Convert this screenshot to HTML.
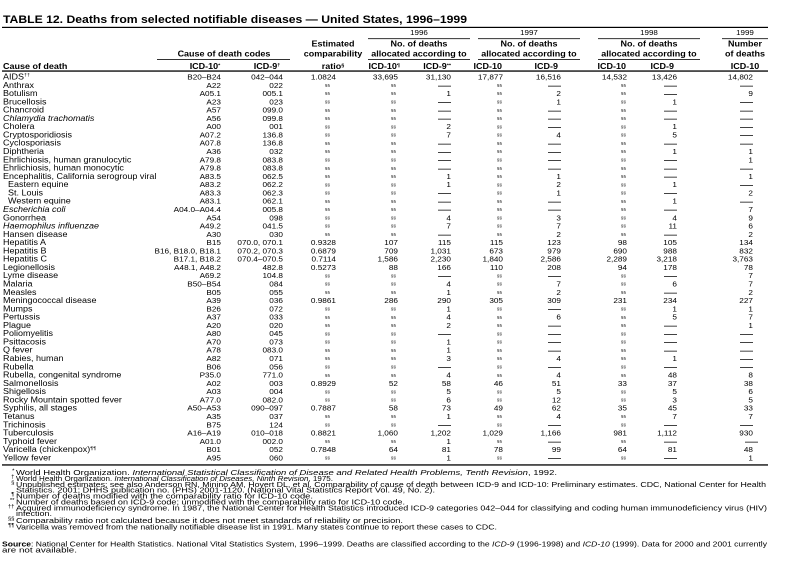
<!DOCTYPE html>
<html><head><meta charset="utf-8">
<style>
html,body{margin:0;padding:0;background:#fff;}
svg{display:block;}
text{font-family:"Liberation Sans",Arial,sans-serif;fill:#000;}
.n{font-size:9px;}
.i{font-style:italic;}
.c{font-size:8.2px;text-anchor:end;}
.m{font-size:4.6px;text-anchor:end;}
.d{font-size:13px;}
.h{font-size:9px;font-weight:bold;}
.hc{font-size:9px;font-weight:bold;text-anchor:middle;}
.he{font-size:9px;font-weight:bold;text-anchor:end;}
.y{font-size:8px;text-anchor:middle;}
.f{font-size:8.8px;}
.fm{font-size:6px;text-anchor:end;}
</style></head><body>
<svg width="787" height="575" viewBox="0 0 787 575" xmlns="http://www.w3.org/2000/svg">
<rect width="787" height="575" fill="#fff"/>
<text x="3" y="23" font-size="10.6" font-weight="bold" textLength="464" lengthAdjust="spacingAndGlyphs">TABLE 12. Deaths from selected notifiable diseases — United States, 1996–1999</text>
<rect x="2" y="26.8" width="766" height="1.2"/>

<!-- header -->
<g transform="translate(0,35) scale(1,.9)">
<text x="419" class="y">1996</text><text x="529" class="y">1997</text><text x="649" class="y">1998</text><text x="745" class="y">1999</text>
</g>
<rect x="368" y="38.3" width="102" height="0.8"/>
<rect x="478" y="38.3" width="102" height="0.8"/>
<rect x="598" y="38.3" width="102" height="0.8"/>
<rect x="722" y="38.3" width="46" height="0.8"/>
<g transform="translate(0,46.5) scale(1,.9)">
<text x="333" class="hc">Estimated</text>
<text x="419" class="hc">No. of deaths</text><text x="529" class="hc">No. of deaths</text><text x="649" class="hc">No. of deaths</text>
<text x="745" class="hc">Number</text>
</g>
<g transform="translate(0,56.5) scale(1,.9)">
<text x="224" class="hc">Cause of death codes</text>
<text x="333" class="hc">comparability</text>
<text x="419" class="hc">allocated according to</text><text x="529" class="hc">allocated according to</text><text x="649" class="hc">allocated according to</text>
<text x="745" class="hc">of deaths</text>
</g>
<rect x="157" y="59.2" width="133" height="0.8"/>
<rect x="368" y="59.2" width="102" height="0.8"/>
<rect x="478" y="59.2" width="102" height="0.8"/>
<rect x="598" y="59.2" width="102" height="0.8"/>
<g transform="translate(0,69) scale(1,.9)">
<text x="3" class="h">Cause of death</text>
<text x="205" class="hc">ICD-10<tspan font-size="5.5" dy="-3">*</tspan></text>
<text x="267" class="hc">ICD-9<tspan font-size="5.5" dy="-3">†</tspan></text>
<text x="333" class="hc">ratio<tspan font-size="5.5" dy="-3">§</tspan></text>
<text x="400" class="he">ICD-10<tspan font-size="5.5" dy="-3">¶</tspan></text>
<text x="451" class="he">ICD-9<tspan font-size="5.5" dy="-3">**</tspan></text>
<text x="502" class="he">ICD-10</text>
<text x="558" class="he">ICD-9</text>
<text x="626" class="he">ICD-10</text>
<text x="674" class="he">ICD-9</text>
<text x="745" class="hc">ICD-10</text>
</g>
<rect x="2" y="70.4" width="766" height="1.3"/>

<!-- rows -->
<g transform="translate(0,79.5) scale(1,.88)"><text x="3" class="n">AIDS<tspan font-size="5.5" dy="-3.2">††</tspan></text><text x="221" class="c">B20–B24</text><text x="283" class="c">042–044</text><text x="336" class="c">1.0824</text><text x="398" class="c">33,695</text><text x="451" class="c">31,130</text><text x="503" class="c">17,877</text><text x="561" class="c">16,516</text><text x="627" class="c">14,532</text><text x="677" class="c">13,426</text><text x="753" class="c">14,802</text></g>
<g transform="translate(0,87.78) scale(1,.88)"><text x="3" class="n">Anthrax</text><text x="221" class="c">A22</text><text x="283" class="c">022</text><text x="330" y="-1.5" class="m">§§</text><text x="396" y="-1.5" class="m">§§</text><text x="438" y="1.4" class="d">—</text><text x="502" y="-1.5" class="m">§§</text><text x="548" y="1.4" class="d">—</text><text x="626" y="-1.5" class="m">§§</text><text x="664" y="1.4" class="d">—</text><text x="740" y="1.4" class="d">—</text></g>
<g transform="translate(0,96.06) scale(1,.88)"><text x="3" class="n">Botulism</text><text x="221" class="c">A05.1</text><text x="283" class="c">005.1</text><text x="330" y="-1.5" class="m">§§</text><text x="396" y="-1.5" class="m">§§</text><text x="451" class="c">1</text><text x="502" y="-1.5" class="m">§§</text><text x="561" class="c">2</text><text x="626" y="-1.5" class="m">§§</text><text x="664" y="1.4" class="d">—</text><text x="753" class="c">9</text></g>
<g transform="translate(0,104.34) scale(1,.88)"><text x="3" class="n">Brucellosis</text><text x="221" class="c">A23</text><text x="283" class="c">023</text><text x="330" y="-1.5" class="m">§§</text><text x="396" y="-1.5" class="m">§§</text><text x="438" y="1.4" class="d">—</text><text x="502" y="-1.5" class="m">§§</text><text x="561" class="c">1</text><text x="626" y="-1.5" class="m">§§</text><text x="677" class="c">1</text><text x="740" y="1.4" class="d">—</text></g>
<g transform="translate(0,112.62) scale(1,.88)"><text x="3" class="n">Chancroid</text><text x="221" class="c">A57</text><text x="283" class="c">099.0</text><text x="330" y="-1.5" class="m">§§</text><text x="396" y="-1.5" class="m">§§</text><text x="438" y="1.4" class="d">—</text><text x="502" y="-1.5" class="m">§§</text><text x="548" y="1.4" class="d">—</text><text x="626" y="-1.5" class="m">§§</text><text x="664" y="1.4" class="d">—</text><text x="740" y="1.4" class="d">—</text></g>
<g transform="translate(0,120.9) scale(1,.88)"><text x="3" class="n i">Chlamydia trachomatis</text><text x="221" class="c">A56</text><text x="283" class="c">099.8</text><text x="330" y="-1.5" class="m">§§</text><text x="396" y="-1.5" class="m">§§</text><text x="438" y="1.4" class="d">—</text><text x="502" y="-1.5" class="m">§§</text><text x="548" y="1.4" class="d">—</text><text x="626" y="-1.5" class="m">§§</text><text x="664" y="1.4" class="d">—</text><text x="740" y="1.4" class="d">—</text></g>
<g transform="translate(0,129.18) scale(1,.88)"><text x="3" class="n">Cholera</text><text x="221" class="c">A00</text><text x="283" class="c">001</text><text x="330" y="-1.5" class="m">§§</text><text x="396" y="-1.5" class="m">§§</text><text x="451" class="c">2</text><text x="502" y="-1.5" class="m">§§</text><text x="548" y="1.4" class="d">—</text><text x="626" y="-1.5" class="m">§§</text><text x="677" class="c">1</text><text x="740" y="1.4" class="d">—</text></g>
<g transform="translate(0,137.46) scale(1,.88)"><text x="3" class="n">Cryptosporidiosis</text><text x="221" class="c">A07.2</text><text x="283" class="c">136.8</text><text x="330" y="-1.5" class="m">§§</text><text x="396" y="-1.5" class="m">§§</text><text x="451" class="c">7</text><text x="502" y="-1.5" class="m">§§</text><text x="561" class="c">4</text><text x="626" y="-1.5" class="m">§§</text><text x="677" class="c">5</text><text x="740" y="1.4" class="d">—</text></g>
<g transform="translate(0,145.74) scale(1,.88)"><text x="3" class="n">Cyclosporiasis</text><text x="221" class="c">A07.8</text><text x="283" class="c">136.8</text><text x="330" y="-1.5" class="m">§§</text><text x="396" y="-1.5" class="m">§§</text><text x="438" y="1.4" class="d">—</text><text x="502" y="-1.5" class="m">§§</text><text x="548" y="1.4" class="d">—</text><text x="626" y="-1.5" class="m">§§</text><text x="664" y="1.4" class="d">—</text><text x="740" y="1.4" class="d">—</text></g>
<g transform="translate(0,154.02) scale(1,.88)"><text x="3" class="n">Diphtheria</text><text x="221" class="c">A36</text><text x="283" class="c">032</text><text x="330" y="-1.5" class="m">§§</text><text x="396" y="-1.5" class="m">§§</text><text x="438" y="1.4" class="d">—</text><text x="502" y="-1.5" class="m">§§</text><text x="548" y="1.4" class="d">—</text><text x="626" y="-1.5" class="m">§§</text><text x="677" class="c">1</text><text x="753" class="c">1</text></g>
<g transform="translate(0,162.3) scale(1,.88)"><text x="3" class="n">Ehrlichiosis, human granulocytic</text><text x="221" class="c">A79.8</text><text x="283" class="c">083.8</text><text x="330" y="-1.5" class="m">§§</text><text x="396" y="-1.5" class="m">§§</text><text x="438" y="1.4" class="d">—</text><text x="502" y="-1.5" class="m">§§</text><text x="548" y="1.4" class="d">—</text><text x="626" y="-1.5" class="m">§§</text><text x="664" y="1.4" class="d">—</text><text x="753" class="c">1</text></g>
<g transform="translate(0,170.58) scale(1,.88)"><text x="3" class="n">Ehrlichiosis, human monocytic</text><text x="221" class="c">A79.8</text><text x="283" class="c">083.8</text><text x="330" y="-1.5" class="m">§§</text><text x="396" y="-1.5" class="m">§§</text><text x="438" y="1.4" class="d">—</text><text x="502" y="-1.5" class="m">§§</text><text x="548" y="1.4" class="d">—</text><text x="626" y="-1.5" class="m">§§</text><text x="664" y="1.4" class="d">—</text><text x="740" y="1.4" class="d">—</text></g>
<g transform="translate(0,178.86) scale(1,.88)"><text x="3" class="n">Encephalitis, California serogroup viral</text><text x="221" class="c">A83.5</text><text x="283" class="c">062.5</text><text x="330" y="-1.5" class="m">§§</text><text x="396" y="-1.5" class="m">§§</text><text x="451" class="c">1</text><text x="502" y="-1.5" class="m">§§</text><text x="561" class="c">1</text><text x="626" y="-1.5" class="m">§§</text><text x="664" y="1.4" class="d">—</text><text x="753" class="c">1</text></g>
<g transform="translate(0,187.14) scale(1,.88)"><text x="8" class="n">Eastern equine</text><text x="221" class="c">A83.2</text><text x="283" class="c">062.2</text><text x="330" y="-1.5" class="m">§§</text><text x="396" y="-1.5" class="m">§§</text><text x="451" class="c">1</text><text x="502" y="-1.5" class="m">§§</text><text x="561" class="c">2</text><text x="626" y="-1.5" class="m">§§</text><text x="677" class="c">1</text><text x="740" y="1.4" class="d">—</text></g>
<g transform="translate(0,195.42) scale(1,.88)"><text x="8" class="n">St. Louis</text><text x="221" class="c">A83.3</text><text x="283" class="c">062.3</text><text x="330" y="-1.5" class="m">§§</text><text x="396" y="-1.5" class="m">§§</text><text x="438" y="1.4" class="d">—</text><text x="502" y="-1.5" class="m">§§</text><text x="561" class="c">1</text><text x="626" y="-1.5" class="m">§§</text><text x="664" y="1.4" class="d">—</text><text x="753" class="c">2</text></g>
<g transform="translate(0,203.7) scale(1,.88)"><text x="8" class="n">Western equine</text><text x="221" class="c">A83.1</text><text x="283" class="c">062.1</text><text x="330" y="-1.5" class="m">§§</text><text x="396" y="-1.5" class="m">§§</text><text x="438" y="1.4" class="d">—</text><text x="502" y="-1.5" class="m">§§</text><text x="548" y="1.4" class="d">—</text><text x="626" y="-1.5" class="m">§§</text><text x="677" class="c">1</text><text x="740" y="1.4" class="d">—</text></g>
<g transform="translate(0,211.98) scale(1,.88)"><text x="3" class="n i">Escherichia coli</text><text x="221" class="c">A04.0–A04.4</text><text x="283" class="c">005.8</text><text x="330" y="-1.5" class="m">§§</text><text x="396" y="-1.5" class="m">§§</text><text x="438" y="1.4" class="d">—</text><text x="502" y="-1.5" class="m">§§</text><text x="548" y="1.4" class="d">—</text><text x="626" y="-1.5" class="m">§§</text><text x="664" y="1.4" class="d">—</text><text x="753" class="c">7</text></g>
<g transform="translate(0,220.26) scale(1,.88)"><text x="3" class="n">Gonorrhea</text><text x="221" class="c">A54</text><text x="283" class="c">098</text><text x="330" y="-1.5" class="m">§§</text><text x="396" y="-1.5" class="m">§§</text><text x="451" class="c">4</text><text x="502" y="-1.5" class="m">§§</text><text x="561" class="c">3</text><text x="626" y="-1.5" class="m">§§</text><text x="677" class="c">4</text><text x="753" class="c">9</text></g>
<g transform="translate(0,228.54) scale(1,.88)"><text x="3" class="n i">Haemophilus influenzae</text><text x="221" class="c">A49.2</text><text x="283" class="c">041.5</text><text x="330" y="-1.5" class="m">§§</text><text x="396" y="-1.5" class="m">§§</text><text x="451" class="c">7</text><text x="502" y="-1.5" class="m">§§</text><text x="561" class="c">7</text><text x="626" y="-1.5" class="m">§§</text><text x="677" class="c">11</text><text x="753" class="c">6</text></g>
<g transform="translate(0,236.82) scale(1,.88)"><text x="3" class="n">Hansen disease</text><text x="221" class="c">A30</text><text x="283" class="c">030</text><text x="330" y="-1.5" class="m">§§</text><text x="396" y="-1.5" class="m">§§</text><text x="438" y="1.4" class="d">—</text><text x="502" y="-1.5" class="m">§§</text><text x="561" class="c">2</text><text x="626" y="-1.5" class="m">§§</text><text x="664" y="1.4" class="d">—</text><text x="753" class="c">2</text></g>
<g transform="translate(0,245.1) scale(1,.88)"><text x="3" class="n">Hepatitis A</text><text x="221" class="c">B15</text><text x="283" class="c">070.0, 070.1</text><text x="336" class="c">0.9328</text><text x="398" class="c">107</text><text x="451" class="c">115</text><text x="503" class="c">115</text><text x="561" class="c">123</text><text x="627" class="c">98</text><text x="677" class="c">105</text><text x="753" class="c">134</text></g>
<g transform="translate(0,253.38) scale(1,.88)"><text x="3" class="n">Hepatitis B</text><text x="221" class="c">B16, B18.0, B18.1</text><text x="283" class="c">070.2, 070.3</text><text x="336" class="c">0.6879</text><text x="398" class="c">709</text><text x="451" class="c">1,031</text><text x="503" class="c">673</text><text x="561" class="c">979</text><text x="627" class="c">690</text><text x="677" class="c">988</text><text x="753" class="c">832</text></g>
<g transform="translate(0,261.66) scale(1,.88)"><text x="3" class="n">Hepatitis C</text><text x="221" class="c">B17.1, B18.2</text><text x="283" class="c">070.4–070.5</text><text x="336" class="c">0.7114</text><text x="398" class="c">1,586</text><text x="451" class="c">2,230</text><text x="503" class="c">1,840</text><text x="561" class="c">2,586</text><text x="627" class="c">2,289</text><text x="677" class="c">3,218</text><text x="753" class="c">3,763</text></g>
<g transform="translate(0,269.94) scale(1,.88)"><text x="3" class="n">Legionellosis</text><text x="221" class="c">A48.1, A48.2</text><text x="283" class="c">482.8</text><text x="336" class="c">0.5273</text><text x="398" class="c">88</text><text x="451" class="c">166</text><text x="503" class="c">110</text><text x="561" class="c">208</text><text x="627" class="c">94</text><text x="677" class="c">178</text><text x="753" class="c">78</text></g>
<g transform="translate(0,278.22) scale(1,.88)"><text x="3" class="n">Lyme disease</text><text x="221" class="c">A69.2</text><text x="283" class="c">104.8</text><text x="330" y="-1.5" class="m">§§</text><text x="396" y="-1.5" class="m">§§</text><text x="438" y="1.4" class="d">—</text><text x="502" y="-1.5" class="m">§§</text><text x="548" y="1.4" class="d">—</text><text x="626" y="-1.5" class="m">§§</text><text x="664" y="1.4" class="d">—</text><text x="753" class="c">7</text></g>
<g transform="translate(0,286.5) scale(1,.88)"><text x="3" class="n">Malaria</text><text x="221" class="c">B50–B54</text><text x="283" class="c">084</text><text x="330" y="-1.5" class="m">§§</text><text x="396" y="-1.5" class="m">§§</text><text x="451" class="c">4</text><text x="502" y="-1.5" class="m">§§</text><text x="561" class="c">7</text><text x="626" y="-1.5" class="m">§§</text><text x="677" class="c">6</text><text x="753" class="c">7</text></g>
<g transform="translate(0,294.78) scale(1,.88)"><text x="3" class="n">Measles</text><text x="221" class="c">B05</text><text x="283" class="c">055</text><text x="330" y="-1.5" class="m">§§</text><text x="396" y="-1.5" class="m">§§</text><text x="451" class="c">1</text><text x="502" y="-1.5" class="m">§§</text><text x="561" class="c">2</text><text x="626" y="-1.5" class="m">§§</text><text x="664" y="1.4" class="d">—</text><text x="753" class="c">2</text></g>
<g transform="translate(0,303.06) scale(1,.88)"><text x="3" class="n">Meningococcal disease</text><text x="221" class="c">A39</text><text x="283" class="c">036</text><text x="336" class="c">0.9861</text><text x="398" class="c">286</text><text x="451" class="c">290</text><text x="503" class="c">305</text><text x="561" class="c">309</text><text x="627" class="c">231</text><text x="677" class="c">234</text><text x="753" class="c">227</text></g>
<g transform="translate(0,311.34) scale(1,.88)"><text x="3" class="n">Mumps</text><text x="221" class="c">B26</text><text x="283" class="c">072</text><text x="330" y="-1.5" class="m">§§</text><text x="396" y="-1.5" class="m">§§</text><text x="451" class="c">1</text><text x="502" y="-1.5" class="m">§§</text><text x="548" y="1.4" class="d">—</text><text x="626" y="-1.5" class="m">§§</text><text x="677" class="c">1</text><text x="753" class="c">1</text></g>
<g transform="translate(0,319.62) scale(1,.88)"><text x="3" class="n">Pertussis</text><text x="221" class="c">A37</text><text x="283" class="c">033</text><text x="330" y="-1.5" class="m">§§</text><text x="396" y="-1.5" class="m">§§</text><text x="451" class="c">4</text><text x="502" y="-1.5" class="m">§§</text><text x="561" class="c">6</text><text x="626" y="-1.5" class="m">§§</text><text x="677" class="c">5</text><text x="753" class="c">7</text></g>
<g transform="translate(0,327.9) scale(1,.88)"><text x="3" class="n">Plague</text><text x="221" class="c">A20</text><text x="283" class="c">020</text><text x="330" y="-1.5" class="m">§§</text><text x="396" y="-1.5" class="m">§§</text><text x="451" class="c">2</text><text x="502" y="-1.5" class="m">§§</text><text x="548" y="1.4" class="d">—</text><text x="626" y="-1.5" class="m">§§</text><text x="664" y="1.4" class="d">—</text><text x="753" class="c">1</text></g>
<g transform="translate(0,336.18) scale(1,.88)"><text x="3" class="n">Poliomyelitis</text><text x="221" class="c">A80</text><text x="283" class="c">045</text><text x="330" y="-1.5" class="m">§§</text><text x="396" y="-1.5" class="m">§§</text><text x="438" y="1.4" class="d">—</text><text x="502" y="-1.5" class="m">§§</text><text x="548" y="1.4" class="d">—</text><text x="626" y="-1.5" class="m">§§</text><text x="664" y="1.4" class="d">—</text><text x="740" y="1.4" class="d">—</text></g>
<g transform="translate(0,344.46) scale(1,.88)"><text x="3" class="n">Psittacosis</text><text x="221" class="c">A70</text><text x="283" class="c">073</text><text x="330" y="-1.5" class="m">§§</text><text x="396" y="-1.5" class="m">§§</text><text x="451" class="c">1</text><text x="502" y="-1.5" class="m">§§</text><text x="548" y="1.4" class="d">—</text><text x="626" y="-1.5" class="m">§§</text><text x="664" y="1.4" class="d">—</text><text x="740" y="1.4" class="d">—</text></g>
<g transform="translate(0,352.74) scale(1,.88)"><text x="3" class="n">Q fever</text><text x="221" class="c">A78</text><text x="283" class="c">083.0</text><text x="330" y="-1.5" class="m">§§</text><text x="396" y="-1.5" class="m">§§</text><text x="451" class="c">1</text><text x="502" y="-1.5" class="m">§§</text><text x="548" y="1.4" class="d">—</text><text x="626" y="-1.5" class="m">§§</text><text x="664" y="1.4" class="d">—</text><text x="740" y="1.4" class="d">—</text></g>
<g transform="translate(0,361.02) scale(1,.88)"><text x="3" class="n">Rabies, human</text><text x="221" class="c">A82</text><text x="283" class="c">071</text><text x="330" y="-1.5" class="m">§§</text><text x="396" y="-1.5" class="m">§§</text><text x="451" class="c">3</text><text x="502" y="-1.5" class="m">§§</text><text x="561" class="c">4</text><text x="626" y="-1.5" class="m">§§</text><text x="677" class="c">1</text><text x="740" y="1.4" class="d">—</text></g>
<g transform="translate(0,369.3) scale(1,.88)"><text x="3" class="n">Rubella</text><text x="221" class="c">B06</text><text x="283" class="c">056</text><text x="330" y="-1.5" class="m">§§</text><text x="396" y="-1.5" class="m">§§</text><text x="438" y="1.4" class="d">—</text><text x="502" y="-1.5" class="m">§§</text><text x="548" y="1.4" class="d">—</text><text x="626" y="-1.5" class="m">§§</text><text x="664" y="1.4" class="d">—</text><text x="740" y="1.4" class="d">—</text></g>
<g transform="translate(0,377.58) scale(1,.88)"><text x="3" class="n">Rubella, congenital syndrome</text><text x="221" class="c">P35.0</text><text x="283" class="c">771.0</text><text x="330" y="-1.5" class="m">§§</text><text x="396" y="-1.5" class="m">§§</text><text x="451" class="c">4</text><text x="502" y="-1.5" class="m">§§</text><text x="561" class="c">4</text><text x="626" y="-1.5" class="m">§§</text><text x="677" class="c">48</text><text x="753" class="c">8</text></g>
<g transform="translate(0,385.86) scale(1,.88)"><text x="3" class="n">Salmonellosis</text><text x="221" class="c">A02</text><text x="283" class="c">003</text><text x="336" class="c">0.8929</text><text x="398" class="c">52</text><text x="451" class="c">58</text><text x="503" class="c">46</text><text x="561" class="c">51</text><text x="627" class="c">33</text><text x="677" class="c">37</text><text x="753" class="c">38</text></g>
<g transform="translate(0,394.14) scale(1,.88)"><text x="3" class="n">Shigellosis</text><text x="221" class="c">A03</text><text x="283" class="c">004</text><text x="330" y="-1.5" class="m">§§</text><text x="396" y="-1.5" class="m">§§</text><text x="451" class="c">5</text><text x="502" y="-1.5" class="m">§§</text><text x="561" class="c">5</text><text x="626" y="-1.5" class="m">§§</text><text x="677" class="c">5</text><text x="753" class="c">6</text></g>
<g transform="translate(0,402.42) scale(1,.88)"><text x="3" class="n">Rocky Mountain spotted fever</text><text x="221" class="c">A77.0</text><text x="283" class="c">082.0</text><text x="330" y="-1.5" class="m">§§</text><text x="396" y="-1.5" class="m">§§</text><text x="451" class="c">6</text><text x="502" y="-1.5" class="m">§§</text><text x="561" class="c">12</text><text x="626" y="-1.5" class="m">§§</text><text x="677" class="c">3</text><text x="753" class="c">5</text></g>
<g transform="translate(0,410.7) scale(1,.88)"><text x="3" class="n">Syphilis, all stages</text><text x="221" class="c">A50–A53</text><text x="283" class="c">090–097</text><text x="336" class="c">0.7887</text><text x="398" class="c">58</text><text x="451" class="c">73</text><text x="503" class="c">49</text><text x="561" class="c">62</text><text x="627" class="c">35</text><text x="677" class="c">45</text><text x="753" class="c">33</text></g>
<g transform="translate(0,418.98) scale(1,.88)"><text x="3" class="n">Tetanus</text><text x="221" class="c">A35</text><text x="283" class="c">037</text><text x="330" y="-1.5" class="m">§§</text><text x="396" y="-1.5" class="m">§§</text><text x="451" class="c">1</text><text x="502" y="-1.5" class="m">§§</text><text x="561" class="c">4</text><text x="626" y="-1.5" class="m">§§</text><text x="677" class="c">7</text><text x="753" class="c">7</text></g>
<g transform="translate(0,427.26) scale(1,.88)"><text x="3" class="n">Trichinosis</text><text x="221" class="c">B75</text><text x="283" class="c">124</text><text x="330" y="-1.5" class="m">§§</text><text x="396" y="-1.5" class="m">§§</text><text x="438" y="1.4" class="d">—</text><text x="502" y="-1.5" class="m">§§</text><text x="548" y="1.4" class="d">—</text><text x="626" y="-1.5" class="m">§§</text><text x="664" y="1.4" class="d">—</text><text x="740" y="1.4" class="d">—</text></g>
<g transform="translate(0,435.54) scale(1,.88)"><text x="3" class="n">Tuberculosis</text><text x="221" class="c">A16–A19</text><text x="283" class="c">010–018</text><text x="336" class="c">0.8821</text><text x="398" class="c">1,060</text><text x="451" class="c">1,202</text><text x="503" class="c">1,029</text><text x="561" class="c">1,166</text><text x="627" class="c">981</text><text x="677" class="c">1,112</text><text x="753" class="c">930</text></g>
<g transform="translate(0,443.82) scale(1,.88)"><text x="3" class="n">Typhoid fever</text><text x="221" class="c">A01.0</text><text x="283" class="c">002.0</text><text x="330" y="-1.5" class="m">§§</text><text x="396" y="-1.5" class="m">§§</text><text x="451" class="c">1</text><text x="502" y="-1.5" class="m">§§</text><text x="548" y="1.4" class="d">—</text><text x="626" y="-1.5" class="m">§§</text><text x="664" y="1.4" class="d">—</text><text x="745" y="1.4" class="d" font-size="8">—</text></g>
<g transform="translate(0,452.1) scale(1,.88)"><text x="3" class="n">Varicella (chickenpox)<tspan font-size="5.5" dy="-3.2">¶¶</tspan></text><text x="221" class="c">B01</text><text x="283" class="c">052</text><text x="336" class="c">0.7848</text><text x="398" class="c">64</text><text x="451" class="c">81</text><text x="503" class="c">78</text><text x="561" class="c">99</text><text x="627" class="c">64</text><text x="677" class="c">81</text><text x="753" class="c">48</text></g>
<g transform="translate(0,460.38) scale(1,.88)"><text x="3" class="n">Yellow fever</text><text x="221" class="c">A95</text><text x="283" class="c">060</text><text x="330" y="-1.5" class="m">§§</text><text x="396" y="-1.5" class="m">§§</text><text x="451" class="c">1</text><text x="502" y="-1.5" class="m">§§</text><text x="548" y="1.4" class="d">—</text><text x="626" y="-1.5" class="m">§§</text><text x="664" y="1.4" class="d">—</text><text x="753" class="c">1</text></g>
<rect x="2" y="464.3" width="766" height="1.3"/>

<!-- footnotes -->
<g transform="translate(0,475) scale(1,.85)"><text x="14.5" y="-3" class="fm">*</text><text x="16" class="f" textLength="541" lengthAdjust="spacingAndGlyphs">World Health Organization. <tspan class="i">International Statistical Classification of Disease and Related Health Problems, Tenth Revision</tspan>, 1992.</text></g>
<g transform="translate(0,481) scale(1,.85)"><text x="14.5" y="-3" class="fm">†</text><text x="16" class="f" textLength="317" lengthAdjust="spacingAndGlyphs">World Health Organization. <tspan class="i">International Classification of Diseases, Ninth Revision</tspan>, 1975.</text></g>
<g transform="translate(0,487) scale(1,.85)"><text x="14.5" y="-3" class="fm">§</text><text x="16" class="f" textLength="750" lengthAdjust="spacingAndGlyphs">Unpublished estimates; see also Anderson RN, Minino AM, Hoyert DL, et al. Comparability of cause of death between ICD-9 and ICD-10: Preliminary estimates. CDC, National Center for Health</text></g>
<g transform="translate(0,492.5) scale(1,.85)"><text x="16" class="f" textLength="419" lengthAdjust="spacingAndGlyphs">Statistics. 2001; DHHS publication no. (PHS) 2001-1120. (National Vital Statistics Report Vol. 49, No. 2).</text></g>
<g transform="translate(0,498.5) scale(1,.85)"><text x="14.5" y="-3" class="fm">¶</text><text x="16" class="f" textLength="297" lengthAdjust="spacingAndGlyphs">Number of deaths modified with the comparability ratio for ICD-10 code.</text></g>
<g transform="translate(0,504.5) scale(1,.85)"><text x="14.5" y="-3" class="fm">**</text><text x="16" class="f" textLength="389" lengthAdjust="spacingAndGlyphs">Number of deaths based on ICD-9 code; unmodified with the comparability ratio for ICD-10 code.</text></g>
<g transform="translate(0,510.5) scale(1,.85)"><text x="14.5" y="-3" class="fm">††</text><text x="16" class="f" textLength="751" lengthAdjust="spacingAndGlyphs">Acquired immunodeficiency syndrome. In 1987, the National Center for Health Statistics introduced ICD-9 categories 042–044 for classifying and coding human immunodeficiency virus (HIV)</text></g>
<g transform="translate(0,516) scale(1,.85)"><text x="16" class="f" textLength="36" lengthAdjust="spacingAndGlyphs">infection.</text></g>
<g transform="translate(0,523) scale(1,.85)"><text x="14.5" y="-3" class="fm">§§</text><text x="16" class="f" textLength="387" lengthAdjust="spacingAndGlyphs">Comparability ratio not calculated because it does not meet standards of reliability or precision.</text></g>
<g transform="translate(0,529.5) scale(1,.85)"><text x="14.5" y="-3" class="fm">¶¶</text><text x="16" class="f" textLength="481" lengthAdjust="spacingAndGlyphs">Varicella was removed from the nationally notifiable disease list in 1991. Many states continue to report these cases to CDC.</text></g>
<g transform="translate(0,546.5) scale(1,.85)"><text x="2" class="f" textLength="765" lengthAdjust="spacingAndGlyphs"><tspan font-weight="bold">Source</tspan>: National Center for Health Statistics. National Vital Statistics System, 1996–1999. Deaths are classified according to the <tspan class="i">ICD-9</tspan> (1996-1998) and <tspan class="i">ICD-10</tspan> (1999). Data for 2000 and 2001 currently</text></g>
<g transform="translate(0,552.5) scale(1,.85)"><text x="2" class="f" textLength="75" lengthAdjust="spacingAndGlyphs">are not available.</text></g>
</svg>
</body></html>
